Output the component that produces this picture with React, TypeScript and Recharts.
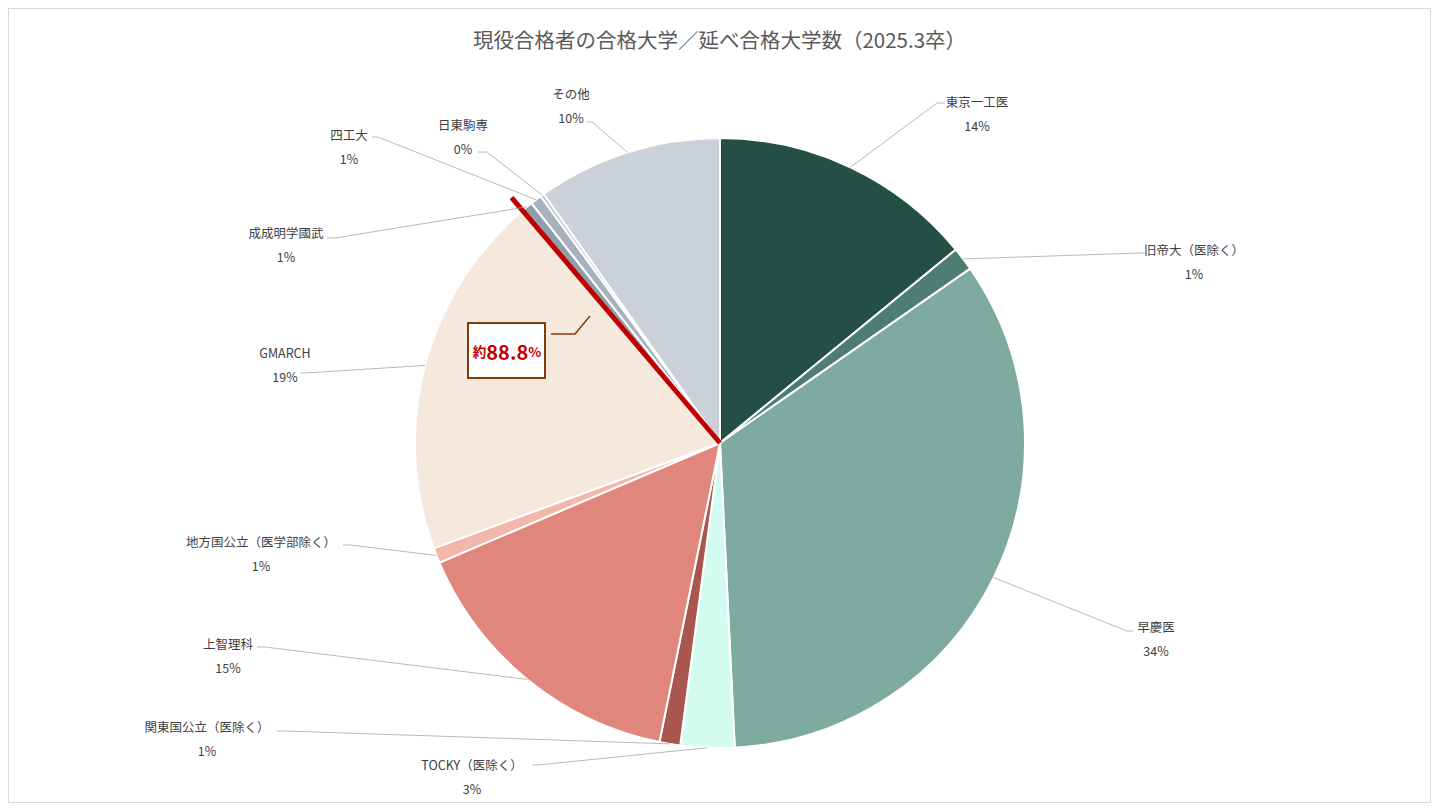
import { Cell, Pie, PieChart } from "recharts";

const names = [
    "東京一工医",
    "旧帝大（医除く）",
    "早慶医",
    "TOCKY（医除く）",
    "関東国公立（医除く）",
    "上智理科",
    "地方国公立（医学部除く）",
    "GMARCH",
    "成成明学國武",
    "四工大",
    "日東駒専",
    "その他",
];
const values = [14.06, 1.25, 33.9, 2.85, 1.1, 15.4, 0.8, 19.4, 0.6, 0.6, 0.2, 9.8];
const colors = [
    "#234f45",
    "#4d7e71",
    "#7faa9f",
    "#d4fbf0",
    "#a9564e",
    "#e0867d",
    "#f3b6ab",
    "#f5e8dc",
    "#8f9eac",
    "#a6b2bd",
    "#bac3cc",
    "#cad1d8",
];
const title = "現役合格者の合格大学／延べ合格大学数（2025.3卒）";
const markName = "GMARCH";

const data = names.map((name, i) => ({ name, value: values[i] }));
const total = values.reduce((a, b) => a + b, 0);
const markIndex = names.indexOf(markName);
const markShare = values.slice(0, markIndex + 1).reduce((a, b) => a + b, 0) / total;

// label placement, offsets from the pie centre (text centre, bend, stub end)
const layout: Record<string, { t: [number, number]; b: [number, number]; e: [number, number] }> = {
    "東京一工医": { t: [257, -342], b: [217, -340], e: [225, -340] },
    "旧帝大（医除く）": { t: [474, -194], b: [420, -190], e: [426, -190] },
    "早慶医": { t: [436, 183], b: [407, 188], e: [413, 188] },
    "TOCKY（医除く）": { t: [-248, 321], b: [-182, 322], e: [-188, 322] },
    "関東国公立（医除く）": { t: [-513, 283], b: [-435, 288], e: [-443, 288] },
    "上智理科": { t: [-492, 200], b: [-455, 204], e: [-463, 204] },
    "地方国公立（医学部除く）": { t: [-459, 98], b: [-370, 102], e: [-377, 102] },
    "GMARCH": { t: [-435, -91], b: [-415, -70], e: [-420, -70] },
    "成成明学國武": { t: [-434, -211], b: [-385, -205], e: [-393, -205] },
    "四工大": { t: [-371, -309], b: [-342, -306], e: [-348, -306] },
    "日東駒専": { t: [-257, -319], b: [-233, -291], e: [-242, -291] },
    "その他": { t: [-149, -350], b: [-128, -321], e: [-133, -321] },
};

const RAD = Math.PI / 180;
const FONT = "'Noto Sans CJK JP', 'Noto Sans', sans-serif";

const renderLabel = (props: any) => {
    const { cx, cy, midAngle, outerRadius, percent } = props;
    const name = props.payload?.name ?? props.name;
    const l = layout[name];
    if (!l) return null;
    const sx = cx + outerRadius * Math.cos(-midAngle * RAD);
    const sy = cy + outerRadius * Math.sin(-midAngle * RAD);
    const pts = `${sx},${sy} ${cx + l.b[0]},${cy + l.b[1]} ${cx + l.e[0]},${cy + l.e[1]}`;

    let mark = null;
    if (name === markName) {
        const ang = (90 - markShare * 360) * RAD;
        const r = outerRadius + 17;
        mark = (
            <g>
                <line
                    x1={cx}
                    y1={cy}
                    x2={cx + r * Math.cos(-ang)}
                    y2={cy + r * Math.sin(-ang)}
                    stroke="#c00000"
                    strokeWidth={5}
                />
                <rect x={cx - 252} y={cy - 120} width={77} height={55} fill="#ffffff" stroke="#843c0c" strokeWidth={2} />
                <polyline
                    points={`${cx - 169},${cy - 109} ${cx - 145},${cy - 109} ${cx - 130},${cy - 127}`}
                    fill="none"
                    stroke="#843c0c"
                    strokeWidth={1.5}
                />
                <text x={cx - 213} y={cy - 92} textAnchor="middle" dominantBaseline="central" fill="#c00000" fontWeight="bold" fontFamily={FONT}>
                    <tspan fontSize={13.5}>約</tspan>
                    <tspan fontSize={20}>{(markShare * 100).toFixed(1)}</tspan>
                    <tspan fontSize={13.5}>%</tspan>
                </text>
            </g>
        );
    }

    return (
        <g>
            <polyline points={pts} fill="none" stroke="#a6a6a6" strokeWidth={0.8} />
            <text x={cx + l.t[0]} y={cy + l.t[1]} textAnchor="middle" dominantBaseline="central" fontSize={12.5} fill="#404040" fontFamily={FONT}>
                {name}
            </text>
            <text x={cx + l.t[0]} y={cy + l.t[1] + 24} textAnchor="middle" dominantBaseline="central" fontSize={12.5} fill="#404040" fontFamily={FONT}>
                {Math.round(percent * 100)}%
            </text>
            {mark}
        </g>
    );
};

const App = () => {
    return (
        <div
            style={{
                position: "relative",
                width: 1423,
                height: 795,
                border: "1px solid #d9d9d9",
                boxSizing: "border-box",
                background: "#ffffff",
                fontFamily: FONT,
            }}
        >
            <div
                style={{
                    position: "absolute",
                    top: 15,
                    left: 0,
                    width: "100%",
                    textAlign: "center",
                    fontSize: 20.5,
                    color: "#595959",
                }}
            >
                {title}
            </div>
            <PieChart width={1421} height={793}>
                <Pie
                    data={data}
                    dataKey="value"
                    nameKey="name"
                    cx={706}
                    cy={429}
                    outerRadius={305}
                    startAngle={90}
                    endAngle={-270}
                    stroke="#ffffff"
                    strokeWidth={2}
                    label={renderLabel}
                    labelLine={false}
                    isAnimationActive={false}
                >
                    {data.map((d, i) => (
                        <Cell key={d.name} fill={colors[i]} />
                    ))}
                </Pie>
            </PieChart>
        </div>
    );
};

export default App;
